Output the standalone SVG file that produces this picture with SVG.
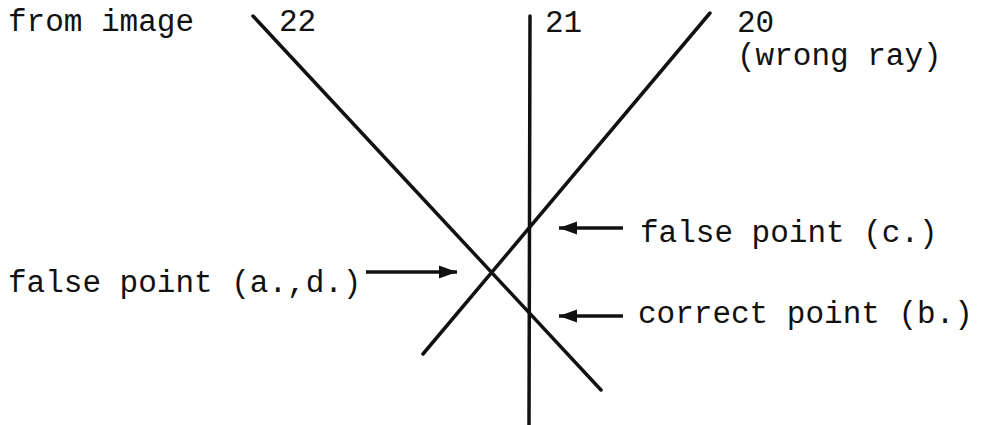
<svg xmlns="http://www.w3.org/2000/svg" width="982" height="425" viewBox="0 0 982 425">
<style>
.t{font-family:"Liberation Mono","DejaVu Sans Mono",monospace;font-size:31px;fill:#111}
.ray{stroke:#111;stroke-width:3.5;stroke-linecap:round;fill:none}
.arr{stroke:#111;stroke-width:3.5;fill:none;marker-end:url(#ah)}
</style>
<defs>
<marker id="ah" markerUnits="userSpaceOnUse" markerWidth="20" markerHeight="14" refX="18" refY="7" orient="auto">
<path d="M0,0.5 L18,7 L0,13.5 Z" fill="#111"/>
</marker>
</defs>
<rect width="982" height="425" fill="#fff"/>
<g id="rays">
<g id="ray22"><line class="ray" x1="253" y1="16" x2="601" y2="390"/><text class="t" x="279" y="31">22</text></g>
<g id="ray21"><line class="ray" x1="530" y1="16" x2="529" y2="425"/><text class="t" x="545" y="32">21</text></g>
<g id="ray20"><line class="ray" x1="710" y1="13" x2="423" y2="354"/><text class="t" x="737" y="32">20</text><text class="t" x="737" y="65">(wrong ray)</text></g>
</g>
<g id="label-from"><text class="t" x="8" y="31">from image</text></g>
<g id="label-ad"><text class="t" x="8" y="292">false point (a.,d.)</text></g>
<g id="label-c"><text class="t" x="640" y="242">false point (c.)</text></g>
<g id="label-b"><text class="t" x="638" y="323">correct point (b.)</text></g>
<g id="connectors">
<line class="arr" x1="366" y1="272" x2="457" y2="272"/>
<line class="arr" x1="623" y1="228" x2="559" y2="228"/>
<line class="arr" x1="623" y1="316" x2="559" y2="316"/>
</g>
</svg>
